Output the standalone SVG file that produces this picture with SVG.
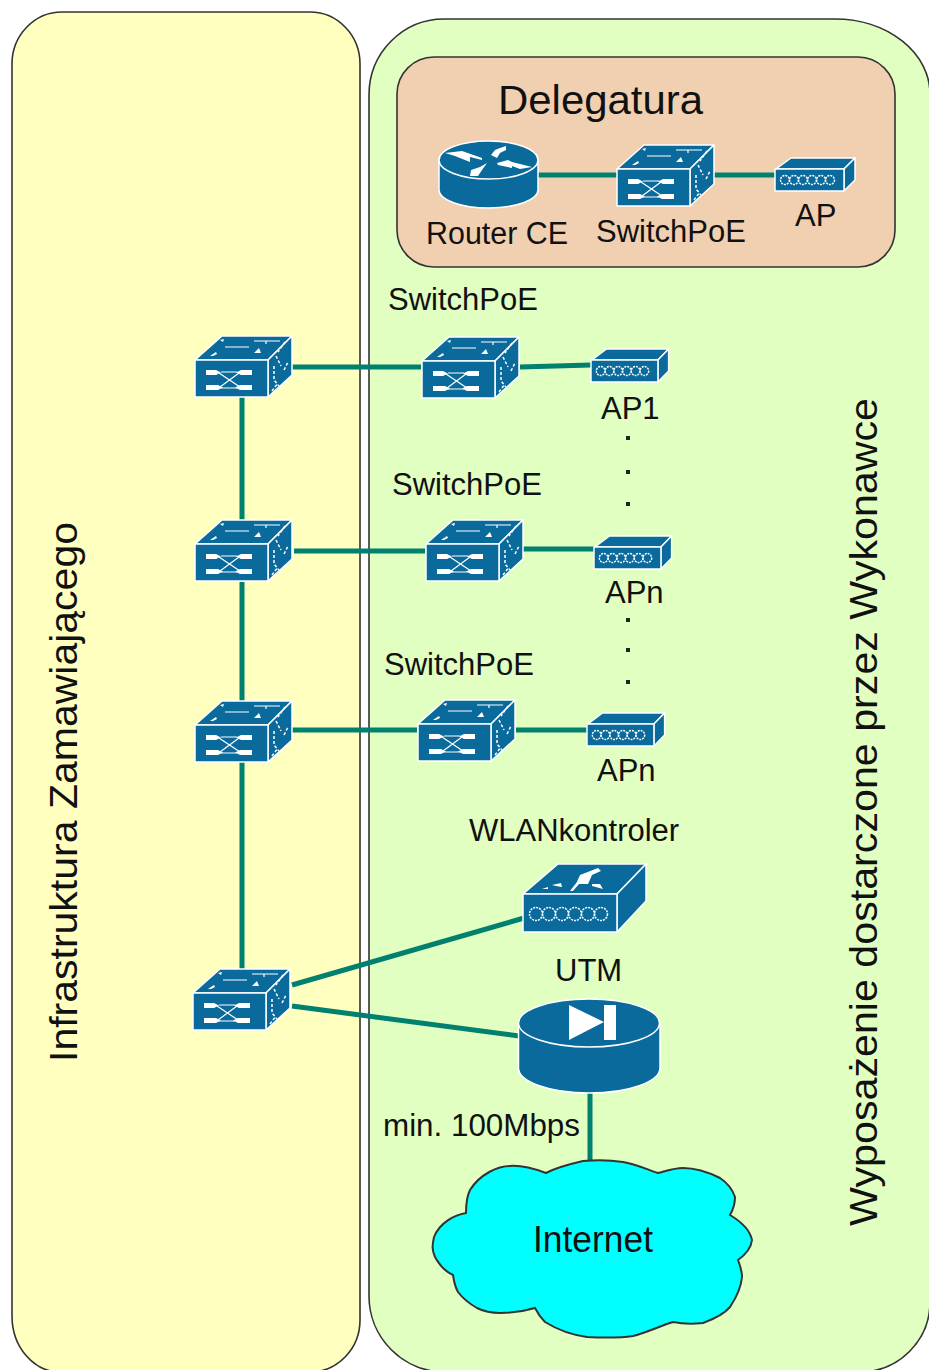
<svg xmlns="http://www.w3.org/2000/svg" width="929" height="1370" viewBox="0 0 929 1370">
<style>
text{font-family:"Liberation Sans",Arial,sans-serif;fill:#111;font-size:31px}
.ln{stroke:#00806f;stroke-width:5;fill:none}
.b{fill:#0a6a9c;stroke:#fff;stroke-width:1.5;stroke-linejoin:round}
.w{fill:#fff}
.ws{stroke:#fff;stroke-width:1.2;fill:none}
.d{stroke:#fff;stroke-width:1.5;fill:none;stroke-dasharray:3 2}
.p{stroke:#333;stroke-width:1.6}
</style>
<defs>
<g id="sw">
<path class="b" d="M1 24L28 0H98L74 24Z"/>
<path class="b" d="M74 24L98 0V39L74 61Z"/>
<rect class="b" x="1" y="24" width="73" height="37"/>
<path class="w" d="M12 34H22L27 36.500L22 39H12ZM47 34H58V39H47L42 36.500ZM12 49H24L29 51.500L24 54H12ZM46 49H58V54H46L41 51.500Z"/>
<path class="ws" d="M25 37L46 51M45 37L26 51M27 36H43M27 52H43"/>
<path class="ws" d="M31 11H55M60 5H86M72 5V8"/>
<path class="w" d="M16 20L22 16L23 18L19 20ZM60 17L65 12L67 17ZM26 4L30 3L29 6Z"/>
<path class="d" d="M80 30V44L85 50M78 55L84 47M91 6L84 16M82 20L87 30M90 34L94 26"/>
</g>
<g id="ap">
<path class="b" d="M1 11L16 0H80L69 11Z"/>
<path class="b" d="M69 11L80 0V22L69 33Z"/>
<rect class="b" x="0" y="11" width="69" height="22"/>
<g fill="none" stroke="#fff" stroke-width="1.5" stroke-dasharray="2 1"><circle cx="10" cy="22" r="4.500"/><circle cx="19" cy="22" r="4.500"/><circle cx="28" cy="22" r="4.500"/><circle cx="37" cy="22" r="4.500"/><circle cx="46" cy="22" r="4.500"/><circle cx="55" cy="22" r="4.500"/></g>
</g>
</defs>
<path class="p" fill="#ffffc0" d="M62 12H310A50 52 0 0 1 360 64V1320A50 52 0 0 1 310 1372H60A48 56 0 0 1 12 1316V64A50 52 0 0 1 62 12Z"/>
<path class="p" fill="#e0ffc0" d="M444 19H835A95 75 0 0 1 930 94V1302A70 70 0 0 1 860 1372H445A76 76 0 0 1 369 1296V95A75 76 0 0 1 444 19Z"/>
<rect class="p" x="397" y="57" width="498" height="210" rx="37" ry="37" fill="#f0d0b0"/>
<g id="connectors" class="ln">
<path d="M538 175H617M691 175H775"/>
<path d="M242 395V522M242 582V703M242 760V971"/>
<path d="M292 367H421M520 367L591 365M294 551H425M522 549H594M292 730H417M516 730H587"/>
<path d="M292 985L524 918M292 1006L519 1036M590 1093V1162"/>
</g>
<g id="zone-labels">
<text transform="translate(77 1062) rotate(-90)" style="font-size:39px" textLength="540" lengthAdjust="spacingAndGlyphs">Infrastruktura Zamawiającego</text>
<text transform="translate(877 1226) rotate(-90)" style="font-size:39px" textLength="828" lengthAdjust="spacingAndGlyphs">Wyposażenie dostarczone przez Wykonawce</text>
<text x="498" y="114" style="font-size:40px" textLength="205" lengthAdjust="spacingAndGlyphs">Delegatura</text>
</g>
<g id="router-ce">
<path class="b" d="M439 160V190A49.500 18 0 0 0 538 190V160Z"/>
<ellipse class="b" cx="488.500" cy="160" rx="49.500" ry="19"/>
<path class="w" d="M445 153L462 151L482 158L482 160L470 157L470 162L455 156ZM497 163L508 160L512 162L532 167L520 169L512 166L512 168L498 165ZM491 155L495 150L500 148L506 146L506 150L500 153L497 158ZM470 176L471 170L480 167L487 163L482 170L478 176Z"/>
<text x="426" y="244" textLength="142" lengthAdjust="spacingAndGlyphs">Router CE</text>
</g>
<g id="switch-delegatura"><use href="#sw" x="616" y="145"/><text x="596" y="242">SwitchPoE</text></g>
<g id="ap-delegatura"><use href="#ap" x="775" y="158"/><text x="795" y="226">AP</text></g>
<g id="core1"><use href="#sw" x="194" y="336"/></g>
<g id="core2"><use href="#sw" x="194" y="520"/></g>
<g id="core3"><use href="#sw" x="194" y="701"/></g>
<g id="core4"><use href="#sw" x="192" y="969"/></g>
<g id="switch1"><use href="#sw" x="421" y="337"/><text x="388" y="310">SwitchPoE</text></g>
<g id="switch2"><use href="#sw" x="425" y="520"/><text x="392" y="495">SwitchPoE</text></g>
<g id="switch3"><use href="#sw" x="417" y="700"/><text x="384" y="675">SwitchPoE</text></g>
<g id="ap1"><use href="#ap" transform="translate(591 349) scale(.97 1)"/><text x="601" y="419">AP1</text></g>
<g id="ap2"><use href="#ap" transform="translate(594 536) scale(.97 1)"/><text x="605" y="603">APn</text></g>
<g id="ap3"><use href="#ap" transform="translate(587 713) scale(.97 1)"/><text x="597" y="781">APn</text></g>
<g id="dots" fill="#222"><rect x="626" y="436" width="4" height="4"/><rect x="626" y="470" width="4" height="4"/><rect x="626" y="502" width="4" height="4"/><rect x="626" y="618" width="4" height="4"/><rect x="626" y="648" width="4" height="4"/><rect x="626" y="680" width="4" height="4"/></g>
<g id="wlan">
<path class="b" d="M523 894L558 864H646L617 894Z"/>
<path class="b" d="M617 894L646 864V901L617 932Z"/>
<rect class="b" x="523" y="894" width="94" height="38"/>
<path class="w" d="M576 884L580 875L598 868L601 871L592 875L588 884ZM552 885L561 883L562 887L556 886ZM570 891L577 882L579 884L573 891ZM592 884L600 884L603 889L592 886ZM542 889L548 887L548 889Z"/>
<g fill="none" stroke="#fff" stroke-width="1.500" stroke-dasharray="2 1"><circle cx="536" cy="914" r="6.500"/><circle cx="549" cy="914" r="6.500"/><circle cx="562" cy="914" r="6.500"/><circle cx="575" cy="914" r="6.500"/><circle cx="588" cy="914" r="6.500"/><circle cx="601" cy="914" r="6.500"/></g>
<text x="469" y="841">WLANkontroler</text>
</g>
<g id="utm">
<path class="b" d="M518.500 1023V1068A70.500 25 0 0 0 660 1068V1023Z"/>
<ellipse class="b" cx="589" cy="1023" rx="70.500" ry="24"/>
<path class="w" d="M569 1005L604 1022L569 1040ZM604 1005H616V1040H604Z"/>
<text x="555" y="981">UTM</text>
</g>
<text id="speed" x="383" y="1136" textLength="197" lengthAdjust="spacingAndGlyphs">min. 100Mbps</text>
<g id="internet">
<path fill="#00ffff" stroke="#333" stroke-width="2" d="M546 1173C535 1169 522 1165 510 1166C498 1166 480 1174 470 1190C466 1198 466 1206 466 1213C455 1215 440 1222 434 1237C432 1246 432 1250 435 1257C440 1266 446 1272 453 1275C454 1282 455 1287 458 1292C464 1300 470 1304 477 1308C485 1312 495 1313 500 1313C512 1313 525 1311 535 1308C538 1314 541 1318 545 1322C558 1330 572 1335 587 1337C605 1338 620 1338 633 1336C648 1332 660 1326 673 1322C683 1324 693 1324 703 1323C714 1319 724 1314 730 1307C736 1298 741 1288 742 1277C742 1271 740 1265 738 1260C745 1255 751 1249 752 1240C750 1230 740 1221 730 1215C734 1208 735 1202 735 1197C732 1188 726 1182 720 1178C708 1172 695 1168 683 1168C674 1168 666 1171 658 1173C646 1169 635 1164 623 1162C610 1160 595 1160 583 1161C570 1164 557 1167 546 1173Z"/>
<text x="533" y="1252" style="font-size:36px" textLength="120" lengthAdjust="spacingAndGlyphs">Internet</text>
</g>
</svg>
